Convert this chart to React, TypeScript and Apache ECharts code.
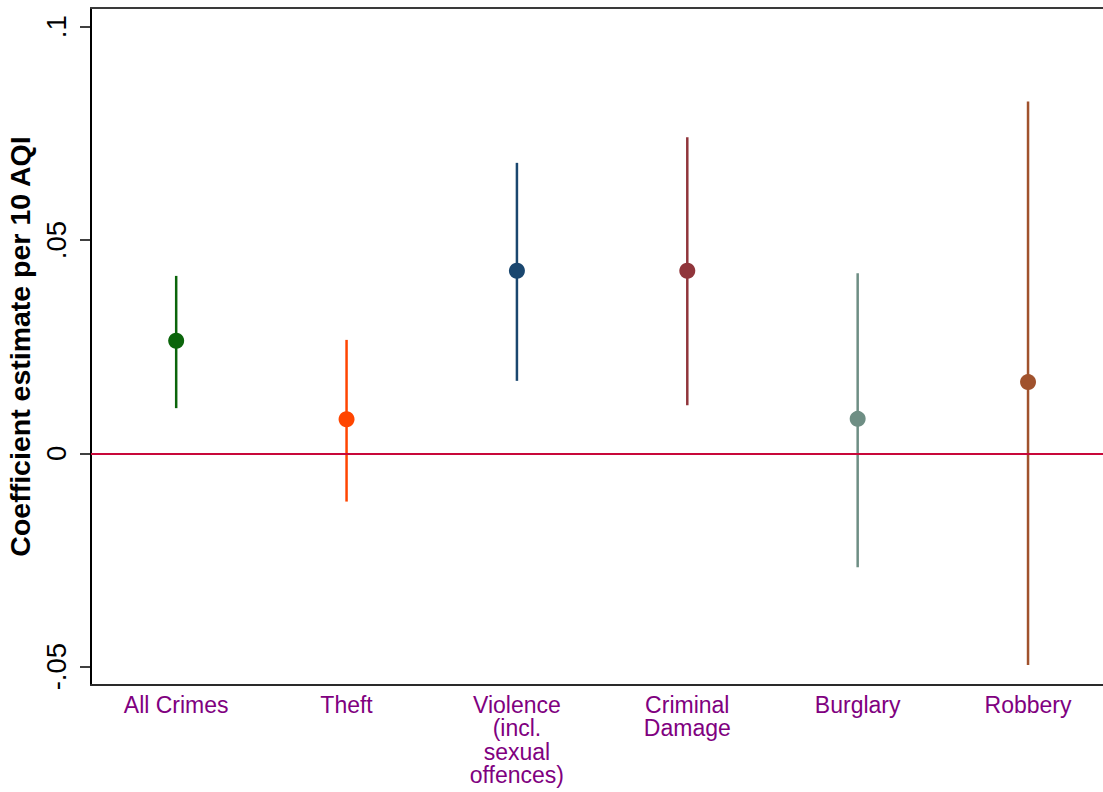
import React, { useEffect, useRef } from "react";
import * as echarts from "echarts";

const categories = [
  "All Crimes",
  "Theft",
  "Violence\n(incl.\nsexual\noffences)",
  "Criminal\nDamage",
  "Burglary",
  "Robbery",
];
const estimates = [0.0264, 0.0080, 0.0428, 0.0428, 0.0081, 0.0167];
const ciLow = [0.0106, -0.0113, 0.0170, 0.0113, -0.0267, -0.0496];
const ciHigh = [0.0416, 0.0266, 0.0681, 0.0741, 0.0422, 0.0825];
const colors = ["#0b650b", "#ff4500", "#1a476f", "#90353b", "#6e8e84", "#a0522d"];
const yTicks = [-0.05, 0, 0.05, 0.1];
const yTickLabels = ["-.05", "0", ".05", ".1"];
const xPositions = [1, 2, 3, 4, 5, 6];

const FONT = '"Liberation Sans", Arial, Helvetica, sans-serif';

export default function App() {
  const ref = useRef<HTMLDivElement>(null);
  useEffect(() => {
    document.body.style.margin = "0";
    if (!ref.current) return;
    const chart = echarts.init(ref.current, null, { renderer: "svg" });
    const xMin = 0.5;
    const xMax = 6.44;
    const option = {
      animation: false,
      backgroundColor: "#ffffff",
      grid: {
        left: 91,
        right: 0,
        top: 8,
        bottom: 107,
        containLabel: false,
        outerBoundsMode: "none",
      },
      xAxis: [
        {
          type: "value",
          min: xMin,
          max: xMax,
          position: "bottom",
          axisLine: { show: true, onZero: false, lineStyle: { color: "#2a2a2a", width: 2 } },
          axisTick: { show: false },
          splitLine: { show: false },
          axisLabel: {
            customValues: xPositions,
            formatter: (v: number) => categories[Math.round(v) - 1] ?? "",
            color: "#800080",
            fontFamily: FONT,
            fontSize: 23,
            lineHeight: 23.5,
            margin: 8,
            align: "center",
            verticalAlign: "top",
          },
        },
        {
          type: "value",
          min: xMin,
          max: xMax,
          position: "top",
          axisLine: { show: true, onZero: false, lineStyle: { color: "#3a3a3a", width: 2 } },
          axisTick: { show: false },
          axisLabel: { show: false },
          splitLine: { show: false },
        },
      ],
      yAxis: {
        type: "value",
        min: -0.0543,
        max: 0.1044,
        name: "Coefficient estimate per 10 AQI",
        nameLocation: "middle",
        nameRotate: 90,
        nameGap: 53,
        nameTextStyle: {
          fontFamily: FONT,
          fontWeight: "bold",
          fontSize: 28.5,
          color: "#000",
        },
        axisLine: { show: true, onZero: false, lineStyle: { color: "#000", width: 2 } },
        axisTick: {
          show: true,
          customValues: yTicks,
          length: 11,
          lineStyle: { color: "#000", width: 1.5 },
        },
        splitLine: { show: false },
        axisLabel: {
          customValues: yTicks,
          rotate: 90,
          margin: 21,
          fontFamily: FONT,
          fontSize: 27.5,
          color: "#000",
          formatter: (v: number) => {
            const i = yTicks.findIndex((t) => Math.abs(t - v) < 1e-9);
            return i >= 0 ? yTickLabels[i] : "";
          },
        },
      },
      series: [
        {
          type: "line",
          data: [],
          silent: true,
          z: 1,
          markLine: {
            silent: true,
            symbol: "none",
            label: { show: false },
            lineStyle: { color: "#c8083a", width: 2, type: "solid" },
            data: [{ yAxis: 0 }],
          },
        },
        {
          type: "custom",
          z: 2,
          data: xPositions.map((x, i) => [x, ciLow[i], ciHigh[i], i]),
          renderItem: (params: any, api: any) => {
            const x = api.value(0);
            const lo = api.coord([x, api.value(1)]);
            const hi = api.coord([x, api.value(2)]);
            const idx = api.value(3);
            return {
              type: "line",
              shape: { x1: lo[0], y1: lo[1], x2: hi[0], y2: hi[1] },
              style: { stroke: colors[idx], lineWidth: 2.5 },
            };
          },
        },
        {
          type: "scatter",
          z: 3,
          symbol: "circle",
          symbolSize: 16,
          itemStyle: { opacity: 1 },
          data: xPositions.map((x, i) => ({
            value: [x, estimates[i]],
            itemStyle: { color: colors[i], opacity: 1 },
          })),
        },
      ],
    };
    chart.setOption(option as any);
    return () => chart.dispose();
  }, []);
  return <div ref={ref} style={{ width: 1103, height: 792 }} />;
}
